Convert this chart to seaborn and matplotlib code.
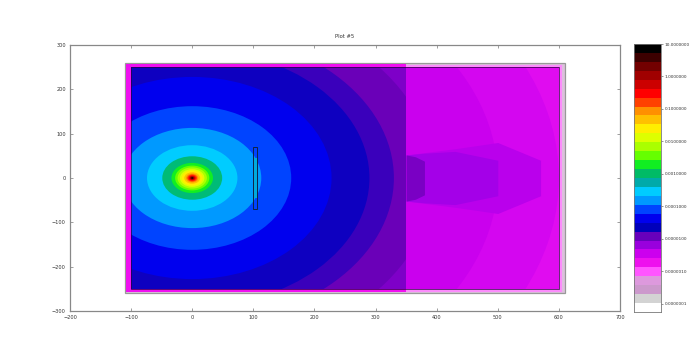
import numpy as np
import matplotlib
matplotlib.use("Agg")
import matplotlib.pyplot as plt
from matplotlib.colors import ListedColormap
from matplotlib.patches import Circle, Rectangle
import seaborn as sns

# colour bar, top to bottom (30 bands, 0.275 decades each, from 10 downwards)
band_colors = [
    "#000000", "#3c0000", "#720000", "#a00000", "#cc0000", "#ff0000",
    "#ff4000", "#ff9000", "#ffc000", "#ffee00", "#ddff00", "#aaff00",
    "#66ff00", "#11ee22", "#00bb66", "#00aaaa", "#00ccff", "#0099ff",
    "#0044ff", "#0000ee", "#0000bb", "#6600bb", "#9900dd", "#cc00ee",
    "#ee11ee", "#ff55ff", "#dd99dd", "#cc99cc", "#d3d3d3", "#ffffff",
]
band_top = 1.0
band_step = 0.275
bar_tick_values = [1, 0, -1, -2, -3, -4, -5, -6, -7]
bar_tick_labels = [
    "10.0000000", "1.0000000", "0.1000000", "0.0100000", "0.0010000",
    "0.0001000", "0.0000100", "0.0000010", "0.0000001",
]

# contour rings round the source at (0, 0), outermost first
ring_radii = [460, 395, 330, 290, 228, 162, 113, 74, 49, 34, 28, 24, 20, 17, 13, 10, 8, 6, 4.5, 3.5, 2.5, 1.2]
ring_colors = [
    "#7e00c8", "#6a00b8", "#3a00bb", "#0e00c0", "#0000ee", "#0044ff",
    "#0099ff", "#00ccff", "#00bb77", "#11ee22", "#66ff00", "#aaff00",
    "#ddff00", "#ffee00", "#ffc000", "#ff9000", "#ff4000", "#ff0000",
    "#cc0000", "#a00000", "#720000", "#000000",
]

# region behind the step at x = 350, outermost first
far_radii = [700, 600, 500]
far_colors = ["#e00cf0", "#d406f0", "#ca00ee"]

# shadow behind the block, as half widths along x, outer layer first
fade_x = [350, 430, 500, 570]
fade_half = [52, 66, 80, 40]
fade_color = "#ba00ec"
shadow_x = [350, 380, 430, 500]
shadow_half = [52, 56, 60, 40]
shadow_color = "#a400e8"
core_x = [350, 365, 380]
core_half = [52, 48, 38]
core_color = "#7a00c4"

block_x = [100, 106]
block_y = [-70, 70]
block_fill_half = 45
block_fill_color = "#00aadd"

x_ticks = [-200, -100, 0, 100, 200, 300, 400, 500, 600, 700]
y_ticks = [-300, -200, -100, 0, 100, 200, 300]


def draw_field(ax):
    # outer layer of the mesh
    ax.add_patch(Rectangle((-110, -260), 720, 520, fc="#dcc0dc", ec="#999999", lw=0.9, zorder=1))
    ax.add_patch(Rectangle((-108, -257), 713, 513, fc="#fb8cfb", ec="none", zorder=1.1))
    ax.add_patch(Rectangle((-108, -258), 458, 516, fc="#f010f0", ec="none", zorder=1.2))

    left_clip = Rectangle((-100, -250), 450, 500, transform=ax.transData)
    right_clip = Rectangle((350, -250), 250, 500, transform=ax.transData)

    for radius, color in zip(ring_radii, ring_colors):
        ring = Circle((0, 0), radius, fc=color, ec="none", zorder=2)
        ax.add_patch(ring)
        ring.set_clip_path(left_clip)

    for radius, color in zip(far_radii, far_colors):
        ring = Circle((0, 0), radius, fc=color, ec="none", zorder=2)
        ax.add_patch(ring)
        ring.set_clip_path(right_clip)

    layers = [
        (fade_x, fade_half, fade_color),
        (shadow_x, shadow_half, shadow_color),
        (core_x, core_half, core_color),
    ]
    for i, (xs, half, color) in enumerate(layers):
        half = np.array(half)
        ax.fill_between(xs, -half, half, color=color, lw=0, zorder=3 + i * 0.1)

    ax.fill_between(block_x, -block_fill_half, block_fill_half, color=block_fill_color, lw=0, zorder=3.5)
    ax.add_patch(Rectangle((-100, -250), 700, 500, fc="none", ec="#2a0040", lw=0.5, zorder=4))
    ax.add_patch(Rectangle((block_x[0], block_y[0]), block_x[1] - block_x[0], block_y[1] - block_y[0],
                           fc="none", ec="#112244", lw=0.7, zorder=4))


def draw_colorbar(ax):
    centers = [[band_top - band_step * (i + 0.5)] for i in range(len(band_colors))]
    sns.heatmap(
        np.array(centers),
        ax=ax,
        cmap=ListedColormap(band_colors[::-1]),
        cbar=False,
        xticklabels=False,
        yticklabels=False,
    )
    ax.set_yticks([(band_top - v) / band_step for v in bar_tick_values])
    ax.set_yticklabels(bar_tick_labels, rotation=0)
    ax.yaxis.tick_right()
    ax.tick_params(axis="y", length=1.5, width=0.4, labelsize=3.1, labelcolor="#333333", color="#444444", pad=1)
    for spine in ax.spines.values():
        spine.set_visible(True)
        spine.set_color("#777777")
        spine.set_linewidth(0.6)


def main():
    sns.set_theme(style="white")
    plt.rcParams["font.family"] = ["DejaVu Sans"]

    fig = plt.figure(figsize=(6.9, 3.56), dpi=100)
    ax = fig.add_axes([70 / 690, 45 / 356, 550 / 690, 266 / 356])
    ax.set_xlim(-200, 700)
    ax.set_ylim(-300, 300)
    ax.set_xticks(x_ticks)
    ax.set_yticks(y_ticks)
    ax.tick_params(direction="in", length=2.5, width=0.5, top=True, right=True, bottom=True, left=True,
                   labelsize=3.6, labelcolor="#333333", color="#777777", pad=3)
    for spine in ax.spines.values():
        spine.set_color("#888888")
        spine.set_linewidth(0.9)

    draw_field(ax)

    fig.text(345 / 690, 1 - 36 / 356, "Plot #5", ha="center", va="center", fontsize=3.8, color="#333333")

    bar_ax = fig.add_axes([634 / 690, 44 / 356, 27 / 690, 268 / 356])
    draw_colorbar(bar_ax)

    fig.savefig("out.png", dpi=100)


if __name__ == "__main__":
    main()
